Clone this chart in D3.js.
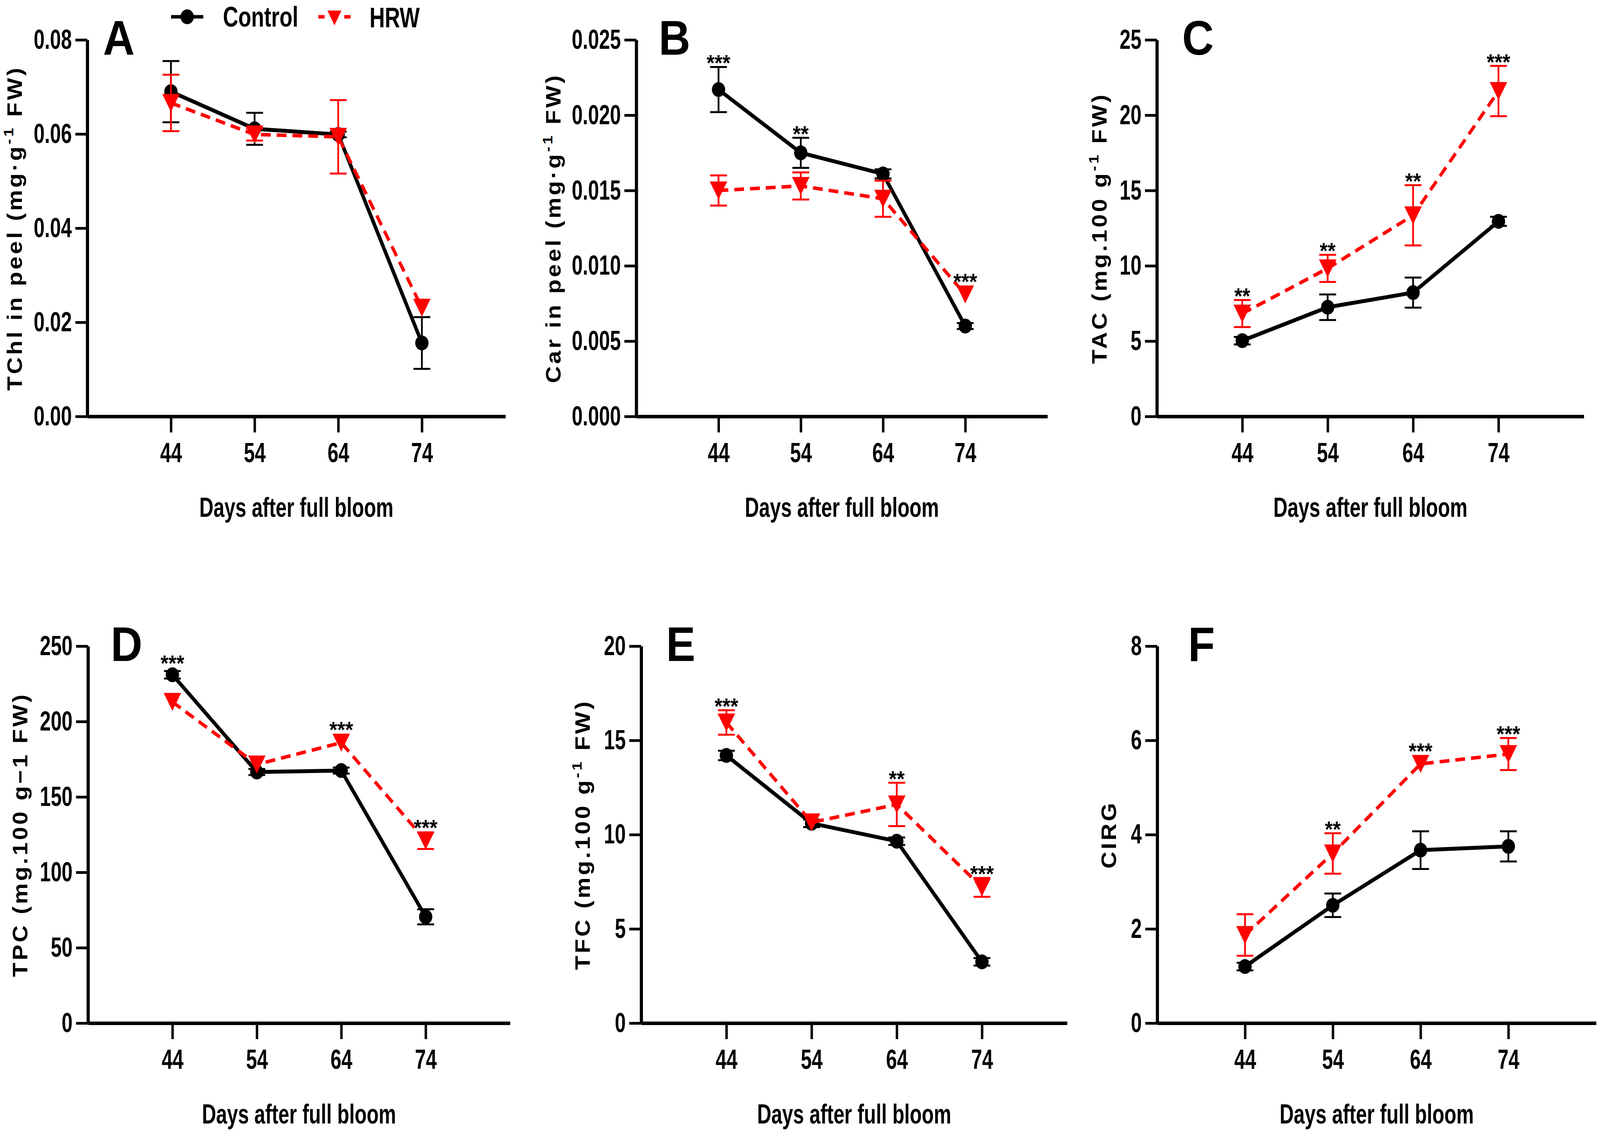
<!DOCTYPE html>
<html>
<head>
<meta charset="utf-8">
<script src="https://cdn.jsdelivr.net/npm/d3@7"></script>
<style>
  html, body { margin: 0; width: 100%; height: 100%; overflow: hidden; background: #fff; }
  svg { display: block; width: 100vw; height: 100vh; }
</style>
</head>
<body>
<script>
const W = 4564, H = 2908;
const FONT = "'Liberation Sans', Arial, sans-serif";
const RED = "#ff0000";

// sampling days
const days = [44, 54, 64, 74];

// A - total chlorophyll in peel
const tchlControl = [0.0690, 0.0611, 0.0599, 0.0156];
const tchlControlErr = [0.0065, 0.0034, 0.0006, 0.0055];
const tchlHRW = [0.0666, 0.0599, 0.0594, 0.0231];
const tchlHRWErr = [0.0060, 0.0013, 0.0078, 0];
const tchlSig = ["", "", "", ""];
const tchlTicks = [0, 0.02, 0.04, 0.06, 0.08];

// B - carotenoids in peel
const carControl = [0.0217, 0.0175, 0.0161, 0.0060];
const carControlErr = [0.0015, 0.0010, 0.0003, 0.0002];
const carHRW = [0.0150, 0.0153, 0.01445, 0.0081];
const carHRWErr = [0.0010, 0.0009, 0.0012, 0];
const carSig = ["***", "**", "", "***"];
const carTicks = [0, 0.005, 0.010, 0.015, 0.020, 0.025];

// C - total anthocyanins
const tacControl = [5.03, 7.25, 8.22, 12.95];
const tacControlErr = [0.25, 0.85, 1.0, 0.3];
const tacHRW = [6.83, 9.83, 13.35, 21.6];
const tacHRWErr = [0.9, 0.9, 2.0, 1.67];
const tacSig = ["**", "**", "**", "***"];
const tacTicks = [0, 5, 10, 15, 20, 25];

// D - total phenolics
const tpcControl = [231, 166.5, 167.5, 70.5];
const tpcControlErr = [2.5, 2, 2, 5];
const tpcHRW = [213, 171.5, 186, 121];
const tpcHRWErr = [0, 0, 0, 5.5];
const tpcSig = ["***", "", "***", "***"];
const tpcTicks = [0, 50, 100, 150, 200, 250];

// E - total flavonoids
const tfcControl = [14.2, 10.6, 9.65, 3.25];
const tfcControlErr = [0.25, 0.2, 0.2, 0.2];
const tfcHRW = [15.95, 10.65, 11.6, 7.2];
const tfcHRWErr = [0.65, 0, 1.15, 0.5];
const tfcSig = ["***", "", "**", "***"];
const tfcTicks = [0, 5, 10, 15, 20];

// F - colour index of red grapes
const cirgControl = [1.2, 2.5, 3.67, 3.75];
const cirgControlErr = [0.08, 0.25, 0.4, 0.32];
const cirgHRW = [1.87, 3.6, 5.5, 5.71];
const cirgHRWErr = [0.44, 0.43, 0, 0.34];
const cirgSig = ["", "**", "***", "***"];
const cirgTicks = [0, 2, 4, 6, 8];

// axis titles: [text, isSuperscript]
const tchlTitle = [["TChl in peel (mg·g", 0], ["-1", 1], [" FW)", 0]];
const carTitle = [["Car in peel (mg·g", 0], ["-1", 1], [" FW)", 0]];
const tacTitle = [["TAC (mg.100 g", 0], ["-1", 1], [" FW)", 0]];
const tpcTitle = [["TPC (mg.100 g−1 FW)", 0]];
const tfcTitle = [["TFC (mg.100 g", 0], ["-1", 1], [" FW)", 0]];
const cirgTitle = [["CIRG", 0]];
const xTitle = "Days after full bloom";

const panels = [
  { letter: "A", ctrl: tchlControl, ctrlErr: tchlControlErr, hrw: tchlHRW, hrwErr: tchlHRWErr, sig: tchlSig, ticks: tchlTicks, fmt: d3.format(".2f"), title: tchlTitle },
  { letter: "B", ctrl: carControl, ctrlErr: carControlErr, hrw: carHRW, hrwErr: carHRWErr, sig: carSig, ticks: carTicks, fmt: d3.format(".3f"), title: carTitle },
  { letter: "C", ctrl: tacControl, ctrlErr: tacControlErr, hrw: tacHRW, hrwErr: tacHRWErr, sig: tacSig, ticks: tacTicks, fmt: d3.format("d"), title: tacTitle },
  { letter: "D", ctrl: tpcControl, ctrlErr: tpcControlErr, hrw: tpcHRW, hrwErr: tpcHRWErr, sig: tpcSig, ticks: tpcTicks, fmt: d3.format("d"), title: tpcTitle },
  { letter: "E", ctrl: tfcControl, ctrlErr: tfcControlErr, hrw: tfcHRW, hrwErr: tfcHRWErr, sig: tfcSig, ticks: tfcTicks, fmt: d3.format("d"), title: tfcTitle },
  { letter: "F", ctrl: cirgControl, ctrlErr: cirgControlErr, hrw: cirgHRW, hrwErr: cirgHRWErr, sig: cirgSig, ticks: cirgTicks, fmt: d3.format("d"), title: cirgTitle },
];

// where each panel sits on the page
const layout = [
  { x0: 249, x1: 1442, top: 102, bottom: 1066, titleX: 40, letterX: 294 },
  { x0: 1815, x1: 2988, top: 102, bottom: 1066, titleX: 1577, letterX: 1879 },
  { x0: 3300, x1: 4518, top: 102, bottom: 1066, titleX: 3135, letterX: 3372 },
  { x0: 251, x1: 1455, top: 1654, bottom: 2619, titleX: 56, letterX: 316 },
  { x0: 1829, x1: 3044, top: 1654, bottom: 2619, titleX: 1661, letterX: 1900 },
  { x0: 3301, x1: 4553, top: 1654, bottom: 2619, titleX: 3161, letterX: 3389 },
];

// the drawing fills the whole window whatever its pixel size
const svg = d3.create("svg")
  .attr("viewBox", [0, 0, W, H])
  .attr("preserveAspectRatio", "none");
document.body.appendChild(svg.node());
svg.append("rect").attr("width", W).attr("height", H).attr("fill", "#fff");

// narrow bold look of the GraphPad labels
const squeeze = (sel, k) => {
  sel.each(function() {
    const w = this.getComputedTextLength();
    d3.select(this).attr("textLength", w * k).attr("lengthAdjust", "spacingAndGlyphs");
  });
};

const triangleDown = (w, h) => `M${-w / 2},${-h / 2}L${w / 2},${-h / 2}L0,${h / 2}Z`;

const drawSeries = (g, x, y, vals, errs, color, dashed) => {
  const pts = days.map((d, i) => ({ day: d, v: vals[i], e: errs[i] }));
  const line = d3.line().x(d => x(d.day)).y(d => y(d.v));

  g.append("path")
    .datum(pts)
    .attr("d", line)
    .attr("fill", "none")
    .attr("stroke", color)
    .attr("stroke-width", dashed ? 9 : 10)
    .attr("stroke-dasharray", dashed ? "28,17" : null);

  const eb = g.append("g").attr("stroke", color).attr("stroke-width", 5);
  pts.filter(p => p.e > 0).forEach(p => {
    const cx = x(p.day), yt = y(p.v + p.e), yb = y(p.v - p.e);
    eb.append("line").attr("x1", cx).attr("x2", cx).attr("y1", yt).attr("y2", yb);
    eb.append("line").attr("x1", cx - 24).attr("x2", cx + 24).attr("y1", yt).attr("y2", yt);
    eb.append("line").attr("x1", cx - 24).attr("x2", cx + 24).attr("y1", yb).attr("y2", yb);
  });

  if (dashed) {
    g.selectAll(null).data(pts).join("path")
      .attr("d", triangleDown(50, 46))
      .attr("transform", d => `translate(${x(d.day)},${y(d.v)})`)
      .attr("fill", color);
  } else {
    g.selectAll(null).data(pts).join("circle")
      .attr("cx", d => x(d.day))
      .attr("cy", d => y(d.v))
      .attr("r", 19)
      .attr("fill", color);
  }
};

panels.forEach((p, i) => {
  const L = layout[i];
  const x = d3.scaleLinear().domain([34, 84]).range([L.x0, L.x1]);
  const y = d3.scaleLinear().domain([0, d3.max(p.ticks)]).range([L.bottom, L.top]);
  const g = svg.append("g");

  // y axis
  const ya = g.append("g")
    .attr("transform", `translate(${L.x0},0)`)
    .call(d3.axisLeft(y).tickValues(p.ticks).tickFormat(p.fmt).tickSize(34).tickSizeOuter(0).tickPadding(10))
    .attr("font-size", 70).attr("font-family", FONT).attr("font-weight", "bold");
  ya.select(".domain").attr("stroke-width", 9);
  ya.selectAll(".tick line").attr("stroke-width", 7);
  ya.selectAll(".tick text").attr("fill", "#000").call(squeeze, 0.8);

  // x axis
  const xa = g.append("g")
    .attr("transform", `translate(0,${L.bottom})`)
    .call(d3.axisBottom(x).tickValues(days).tickSize(41).tickSizeOuter(0).tickPadding(26))
    .attr("font-size", 70).attr("font-family", FONT).attr("font-weight", "bold");
  xa.select(".domain").attr("stroke-width", 9);
  xa.selectAll(".tick line").attr("stroke-width", 7);
  xa.selectAll(".tick text").attr("fill", "#000").call(squeeze, 0.8);

  // x title
  g.append("text")
    .attr("x", (L.x0 + L.x1) / 2)
    .attr("y", L.bottom + 257)
    .attr("text-anchor", "middle")
    .attr("font-family", FONT).attr("font-weight", "bold").attr("font-size", 70)
    .text(xTitle)
    .call(squeeze, 0.8);

  // y title
  const yt = g.append("text")
    .attr("transform", `translate(${L.titleX + 22},${(L.top + L.bottom) / 2}) rotate(-90)`)
    .attr("text-anchor", "middle")
    .attr("font-family", FONT).attr("font-weight", "bold").attr("font-size", 60)
    .attr("letter-spacing", 6);
  p.title.forEach(([t, sup], k) => {
    const prevSup = k > 0 && p.title[k - 1][1];
    yt.append("tspan")
      .attr("font-size", sup ? 40 : null)
      .attr("dy", sup ? -24 : (prevSup ? 24 : null))
      .text(t);
  });

  // panel letter
  g.append("text")
    .attr("x", L.letterX)
    .attr("y", L.top + 38)
    .attr("font-family", FONT).attr("font-weight", "bold").attr("font-size", 125)
    .text(p.letter);

  drawSeries(g, x, y, p.ctrl, p.ctrlErr, "#000", false);
  drawSeries(g, x, y, p.hrw, p.hrwErr, RED, true);

  // significance stars above the highest mark
  days.forEach((d, k) => {
    if (!p.sig[k]) return;
    const topPx = Math.min(
      y(p.ctrl[k] + p.ctrlErr[k]), y(p.ctrl[k]) - 19,
      y(p.hrw[k] + p.hrwErr[k]), y(p.hrw[k]) - 23
    );
    g.append("text")
      .attr("x", x(d))
      .attr("y", topPx + 10)
      .attr("text-anchor", "middle")
      .attr("font-family", FONT).attr("font-weight", "bold").attr("font-size", 58)
      .text(p.sig[k]);
  });
});

// legend
const lg = svg.append("g");
lg.append("line").attr("x1", 488).attr("x2", 580).attr("y1", 43).attr("y2", 43)
  .attr("stroke", "#000").attr("stroke-width", 9);
lg.append("circle").attr("cx", 534).attr("cy", 43).attr("r", 19).attr("fill", "#000");
lg.append("text").attr("x", 636).attr("y", 68)
  .attr("font-family", FONT).attr("font-weight", "bold").attr("font-size", 72)
  .text("Control").call(squeeze, 0.84);
lg.append("line").attr("x1", 908).attr("x2", 1000).attr("y1", 43).attr("y2", 43)
  .attr("stroke", RED).attr("stroke-width", 9).attr("stroke-dasharray", "18,19");
lg.append("path").attr("d", triangleDown(40, 38)).attr("transform", "translate(954,46)").attr("fill", RED);
lg.append("text").attr("x", 1054).attr("y", 70)
  .attr("font-family", FONT).attr("font-weight", "bold").attr("font-size", 72)
  .text("HRW").call(squeeze, 0.84);
</script>
</body>
</html>
